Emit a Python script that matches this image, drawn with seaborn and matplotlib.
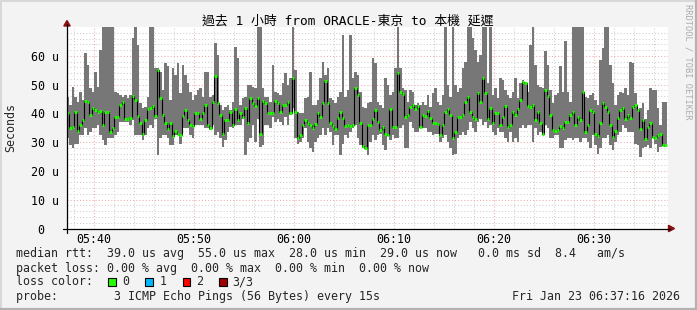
import numpy as np
import pandas as pd
import matplotlib
matplotlib.use('Agg')
import matplotlib.pyplot as plt
import seaborn as sns
from matplotlib.patches import Rectangle, Polygon
from matplotlib.lines import Line2D

# ---------------- data (microseconds, 15 s steps from 05:37:15) ----------------
rtt_max = [45.8, 42.9, 49.3, 45.8, 44.1, 47.5, 44.6, 60.9, 56.8, 48.7,
           47.5, 54.5, 49.3, 62.1, 75, 75, 75, 75, 75, 47.5,
           47.0, 46.4, 45.8, 46.4, 45.2, 46.4, 66.1, 75, 63.8, 43.5,
           41.7, 42.3, 45.8, 75, 75, 55.7, 55.7, 54.5, 48.1, 57.4,
           56.3, 44.6, 55.7, 53.4, 57.4, 47.0, 56.8, 53.4, 50.5, 47.5,
           44.6, 46.4, 48.1, 48.7, 45.8, 54.5, 54.5, 45.8, 46.4, 64.4,
           60.3, 42.9, 41.1, 42.3, 42.9, 41.1, 44.1, 63.2, 59.2, 42.9,
           45.2, 45.8, 49.9, 49.9, 49.3, 48.7, 75, 75, 48.7, 45.8,
           45.8, 44.1, 56.8, 47.5, 47.0, 46.4, 50.5, 53.9, 49.9, 52.2,
           75, 55.1, 40.6, 40.0, 40.0, 45.2, 45.8, 54.5, 42.9, 42.9,
           44.6, 52.2, 58.0, 53.4, 55.7, 45.2, 44.6, 43.5, 45.8, 47.5,
           67.3, 45.8, 48.1, 67.3, 52.2, 54.5, 53.4, 47.5, 42.3, 41.7,
           43.5, 44.1, 59.2, 57.4, 44.1, 42.9, 41.7, 52.2, 49.9, 46.4,
           47.5, 55.7, 75, 55.7, 48.7, 48.1, 44.1, 48.1, 47.5, 42.9,
           43.5, 42.9, 44.1, 42.9, 46.4, 42.3, 47.0, 48.7, 44.1, 42.9,
           46.4, 75, 49.9, 45.8, 75, 49.9, 47.5, 48.7, 55.7, 58.0,
           75, 75, 66.1, 62.1, 58.0, 60.3, 75, 75, 50.5, 75,
           46.4, 48.7, 45.2, 52.2, 51.6, 48.1, 46.4, 45.2, 47.5, 52.2,
           45.2, 50.5, 51.6, 51.0, 47.5, 63.8, 75, 56.8, 49.9, 49.3,
           48.7, 61.5, 56.8, 48.1, 43.5, 46.4, 47.0, 56.3, 47.5, 65.0,
           47.5, 44.1, 75, 75, 75, 75, 75, 45.8, 45.2, 46.4,
           47.0, 44.6, 42.9, 58.6, 62.7, 75, 75, 56.8, 50.5, 42.9,
           46.4, 47.5, 47.0, 48.7, 46.4, 58.0, 57.4, 47.0, 41.5, 41.7,
           43.5, 38.2, 41.1, 48.7, 48.1, 48.1, 41.7, 35.9, 44.1, 44.1]

rtt_min = [31.3, 28.9, 27.8, 29.5, 29.5, 32.4, 32.4, 34.8, 32.4, 33.6,
           34.8, 34.8, 35.9, 32.4, 30.7, 28.9, 31.3, 31.3, 31.3, 32.4,
           33.6, 37.1, 37.1, 37.1, 37.1, 35.9, 37.7, 32.4, 32.4, 32.4,
           30.7, 32.4, 34.8, 35.9, 34.8, 38.2, 25.5, 31.3, 32.4, 32.4,
           31.3, 28.9, 28.9, 32.4, 32.4, 29.5, 34.8, 34.8, 34.8, 32.4,
           31.3, 35.9, 35.9, 35.9, 35.9, 34.8, 34.8, 34.2, 35.9, 32.4,
           33.6, 31.3, 28.4, 30.7, 33.6, 35.3, 34.8, 35.9, 35.9, 35.9,
           38.2, 25.5, 30.1, 31.3, 35.9, 30.1, 38.2, 28.4, 28.9, 35.9,
           35.9, 34.8, 38.8, 37.1, 38.2, 37.1, 35.9, 38.8, 35.9, 39.4,
           41.7, 31.3, 29.5, 30.1, 31.3, 34.8, 30.1, 27.8, 26.6, 30.1,
           31.3, 32.4, 34.8, 32.4, 34.8, 33.6, 28.9, 32.4, 32.4, 25.5,
           29.5, 32.4, 31.3, 33.6, 34.8, 35.9, 31.3, 28.9, 27.8, 27.8,
           25.5, 30.1, 32.4, 30.7, 32.4, 33.0, 28.9, 27.2, 32.0, 30.7,
           32.4, 31.3, 31.3, 34.8, 35.9, 27.8, 27.8, 37.1, 34.8, 33.6,
           33.6, 35.0, 34.8, 34.8, 33.6, 33.6, 32.4, 33.0, 33.0, 30.1,
           31.3, 32.4, 30.1, 27.8, 25.5, 26.0, 31.3, 32.4, 33.6, 32.4,
           34.2, 37.1, 34.8, 33.6, 37.1, 38.2, 35.9, 37.1, 34.8, 35.9,
           33.6, 32.4, 34.8, 33.6, 33.6, 31.3, 30.1, 33.6, 30.1, 31.3,
           30.1, 34.8, 35.9, 34.8, 35.9, 35.9, 30.1, 34.8, 32.4, 33.6,
           32.4, 35.9, 34.8, 31.3, 31.3, 32.4, 32.4, 27.8, 27.8, 30.7,
           31.3, 31.3, 30.7, 31.3, 31.3, 30.1, 31.3, 31.3, 30.1, 27.8,
           32.4, 28.9, 26.0, 27.8, 31.3, 31.3, 32.4, 28.9, 27.2, 30.1,
           32.4, 33.6, 35.9, 34.8, 33.6, 33.6, 33.6, 29.5, 28.9, 24.9,
           27.8, 28.4, 28.9, 27.8, 31.5, 29.5, 26.6, 28.4, 28.5, 28.4]

rtt_median = [40.0, 34.8, 35.3, 40.6, 33.8, 36.1, 37.7, 44.3, 43.8, 39.4,
              42.0, 41.1, 40.3, 40.8, 35.9, 40.3, 40.3, 33.6, 35.0, 38.8,
              38.8, 42.9, 44.1, 37.9, 37.9, 38.5, 46.1, 44.6, 39.2, 36.5,
              33.0, 37.7, 41.5, 42.0, 42.5, 39.2, 55.1, 45.5, 39.4, 36.5,
              34.5, 36.8, 32.2, 33.8, 33.0, 32.4, 39.2, 41.1, 37.7, 36.1,
              35.7, 40.0, 40.0, 37.9, 40.0, 42.9, 36.1, 34.8, 43.8, 53.1,
              43.7, 39.4, 33.0, 37.7, 37.7, 40.3, 35.9, 41.5, 37.7, 40.0,
              38.8, 41.7, 36.5, 45.5, 43.5, 42.5, 45.5, 33.0, 44.3, 43.5,
              40.0, 40.0, 40.0, 44.3, 43.5, 40.6, 42.9, 42.9, 43.8, 40.0,
              52.4, 40.3, 31.5, 32.4, 35.9, 37.7, 36.5, 35.9, 35.0, 36.4,
              40.0, 38.8, 43.7, 51.3, 43.7, 36.5, 35.7, 34.5, 38.5, 40.3,
              38.5, 35.7, 35.9, 35.7, 36.1, 48.9, 46.4, 36.5, 28.7, 28.0,
              36.1, 35.9, 38.0, 41.1, 37.1, 34.2, 35.3, 33.0, 32.4, 41.5,
              35.3, 35.3, 53.9, 47.5, 46.7, 38.6, 39.6, 42.3, 42.9, 41.5,
              42.7, 35.3, 39.6, 39.2, 40.8, 38.5, 36.8, 36.5, 36.3, 32.4,
              35.9, 40.3, 41.5, 39.4, 31.5, 33.6, 38.8, 38.8, 39.4, 44.1,
              45.8, 40.6, 38.8, 38.0, 47.0, 43.8, 52.2, 47.0, 38.0, 41.7,
              36.5, 40.2, 40.2, 35.9, 38.8, 42.5, 35.3, 36.1, 40.6, 39.6,
              41.5, 44.6, 51.0, 50.5, 42.7, 42.3, 42.9, 37.7, 40.6, 36.8,
              33.0, 48.1, 46.1, 39.6, 34.2, 33.8, 34.2, 35.6, 35.0, 37.1,
              37.1, 39.4, 40.3, 35.9, 38.8, 37.7, 47.5, 33.4, 35.9, 41.1,
              40.6, 32.7, 32.2, 36.8, 43.5, 42.3, 40.3, 35.9, 31.7, 33.8,
              38.5, 41.1, 42.0, 38.0, 39.4, 38.5, 42.3, 42.9, 41.1, 34.5,
              37.7, 31.0, 35.3, 36.8, 31.8, 31.5, 32.4, 32.7, 28.9, 28.9]

start_minute = 5 * 60 + 37.25      # 05:37:15, minutes since midnight
step_minutes = 0.25                # 15 s

x_tick_minutes = [340, 350, 360, 370, 380, 390]
x_tick_labels = ['05:40', '05:50', '06:00', '06:10', '06:20', '06:30']
y_tick_values = [0, 10, 20, 30, 40, 50, 60]
y_tick_labels = ['0  ', '10 u', '20 u', '30 u', '40 u', '50 u', '60 u']

title_text = '過去 1 小時 from ORACLE-東京 to 本機 延遲'
legend_rtt = 'median rtt:  39.0 us avg  55.0 us max  28.0 us min  29.0 us now   0.0 ms sd  8.4   am/s'
legend_loss = 'packet loss: 0.00 % avg  0.00 % max  0.00 % min  0.00 % now'
loss_labels = ['0', '1', '2', '3/3']
loss_colors = ['#22ff00', '#00b8ff', '#ff0000', '#a00000']
probe_text = 'probe:        3 ICMP Echo Pings (56 Bytes) every 15s'
stamp_text = 'Fri Jan 23 06:37:16 2026'

# ---------------- figure ----------------
sns.set_theme(style='white')
plt.rcParams['font.family'] = ['DejaVu Sans Mono', 'Noto Sans CJK TC']

W, H = 697, 310
CANVAS = '#f3f3f3'
fig = plt.figure(figsize=(W / 100, H / 100), dpi=100, facecolor=CANVAS)


def fx(x):
    return x / W


def fy(y):
    return 1 - y / H


X0, X1, Y0, Y1 = 67, 668, 27, 228.5
ax = fig.add_axes([fx(X0), fy(Y1), (X1 - X0) / W, (Y1 - Y0) / H])
ax.set_facecolor('white')

n = len(rtt_median)
t = start_minute + step_minutes * np.arange(n)
df = pd.DataFrame({'t': t, 'lo': rtt_min, 'hi': rtt_max, 'med': rtt_median})

t_edges = np.append(df['t'].values, df['t'].values[-1] + step_minutes)
lo_e = np.append(df['lo'].values, df['lo'].values[-1])
hi_e = np.append(df['hi'].values, df['hi'].values[-1])
ax.fill_between(t_edges, lo_e, hi_e, step='post', color='#777777', lw=0, zorder=2)

sns.lineplot(data=df, x='t', y='med', drawstyle='steps-post', color='black',
             lw=0.8, ax=ax, zorder=3, legend=False)
ax.hlines(df['med'], df['t'], df['t'] + step_minutes, color=loss_colors[0],
          lw=2.0, zorder=4)

ax.set_xlim(337.3, 397.4)
ax.set_ylim(0, 70)
ax.set_xlabel('')
ax.set_ylabel('')

ax.set_xticks(x_tick_minutes)
ax.set_xticklabels(x_tick_labels)
ax.set_xticks(np.arange(338, 398, 2), minor=True)
ax.set_yticks(y_tick_values)
ax.set_yticklabels(y_tick_labels)
ax.set_yticks(np.arange(0, 70, 2), minor=True)

ax.grid(which='minor', color='#cfcfcf', linestyle=(0, (1, 2)), lw=0.75)
ax.grid(which='major', color='#eeaaaa', linestyle=(0, (1, 2)), lw=0.75)
ax.set_axisbelow(True)
for s in ax.spines.values():
    s.set_visible(False)

ax.tick_params(axis='both', which='both', length=3, width=0.8, color='black',
               direction='inout', labelsize=8.4, labelcolor='black')
ax.tick_params(axis='y', which='minor', length=0)
ax.tick_params(axis='x', which='minor', length=0)
ax.tick_params(axis='y', which='major', pad=4.3)
ax.tick_params(axis='x', which='major', pad=1.5)

# axis lines with arrows
fig.add_artist(Line2D([fx(62.5), fx(670)], [fy(228.5), fy(228.5)], color='black',
                      lw=0.9, transform=fig.transFigure))
fig.add_artist(Line2D([fx(67), fx(67)], [fy(233), fy(24)], color='black',
                      lw=0.9, transform=fig.transFigure))
fig.add_artist(Polygon([[fx(668.5), fy(225.3)], [fx(668.5), fy(231.7)], [fx(674.5), fy(228.5)]],
                       closed=True, color='#8b1010', transform=fig.transFigure))
fig.add_artist(Polygon([[fx(63.8), fy(26)], [fx(70.2), fy(26)], [fx(67), fy(20.5)]],
                       closed=True, color='#8b1010', transform=fig.transFigure))

# texts
fig.text(fx(348), fy(21), title_text, ha='center', va='center', fontsize=9.3,
         color='black')
fig.text(fx(10.5), fy(128), 'Seconds', ha='center', va='center', rotation=90,
         fontsize=8.4)
fig.text(fx(688), fy(4.5), 'RRDTOOL / TOBI OETIKER', ha='center', va='top',
         rotation=270, fontsize=6.2, color='#ababab')

fs = 8.4
fig.text(fx(15.5), fy(254), legend_rtt, ha='left', va='center', fontsize=fs)
fig.text(fx(15.5), fy(268.3), legend_loss, ha='left', va='center', fontsize=fs)
fig.text(fx(15.5), fy(281.7), 'loss color:', ha='left', va='center', fontsize=fs)
box_x = [108, 145, 182.7, 219.3]
lab_x = [122.3, 159.3, 196, 232.5]
for bx, lx, lab, col in zip(box_x, lab_x, loss_labels, loss_colors):
    fig.add_artist(Rectangle((fx(bx), fy(285.8)), 7.6 / W, 8.3 / H, facecolor=col,
                             edgecolor='black', lw=0.8, transform=fig.transFigure))
    fig.text(fx(lx), fy(281.7), lab, ha='left', va='center', fontsize=fs)
fig.text(fx(15.5), fy(296.7), probe_text, ha='left', va='center', fontsize=fs)
fig.text(fx(680.5), fy(296.7), stamp_text, ha='right', va='center', fontsize=fs)

# frame
fig.add_artist(Line2D([0, 1], [fy(0.8), fy(0.8)], color='#d8d8d8', lw=1.4,
                      transform=fig.transFigure))
fig.add_artist(Line2D([fx(0.8), fx(0.8)], [0, 1], color='#d8d8d8', lw=1.4,
                      transform=fig.transFigure))
fig.add_artist(Line2D([0, 1], [fy(309), fy(309)], color='#b2b2b2', lw=1.6,
                      transform=fig.transFigure))
fig.add_artist(Line2D([fx(696), fx(696)], [0, 1], color='#b2b2b2', lw=1.6,
                      transform=fig.transFigure))

fig.savefig('out.png', dpi=100, facecolor=CANVAS)
